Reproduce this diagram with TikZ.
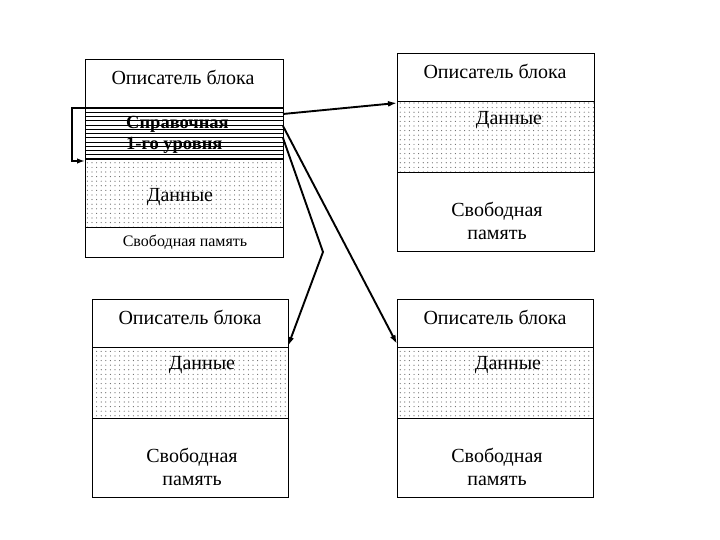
\documentclass[tikz,border=0pt]{standalone}
\usepackage{fontspec}
\setmainfont{Liberation Serif}
\usetikzlibrary{arrows.meta,patterns.meta,calc}
\begin{document}
\begin{tikzpicture}[x=1pt,y=1pt,
  sect/.style={draw=black,line width=1pt,inner sep=0pt,outer sep=0pt,anchor=north west},
  dotted fill/.style={pattern={Dots[distance=4.6pt,radius=0.6pt]},pattern color=black!60},
  lbl/.style={font=\fontsize{20}{22}\selectfont,inner sep=0pt,align=center},
  conn/.style={line width=1.9pt,-{Latex[length=9pt,width=6pt]}}]
\useasboundingbox (0,0) rectangle (720,540);
% ---- block 1 (top left)
\node[sect,minimum width=198pt,minimum height=48pt] (o1) at (85,480) {};
\node[sect,minimum width=198pt,minimum height=51pt] (h1) at (85,432) {};
\node[sect,dotted fill,minimum width=198pt,minimum height=69pt] (d1) at (85,381) {};
\node[sect,minimum width=198pt,minimum height=30pt] (s1) at (85,312) {};
\node[lbl] at (183,463) {Описатель блока};
\node[lbl] at (180,343) {Данные};
\node[lbl,font=\fontsize{16}{18}\selectfont] at (185,298) {Свободная память};
\node[lbl,anchor=west,font=\fontsize{18.5}{20}\selectfont\bfseries] (t1) at (126,416) {Справочная};
\node[lbl,anchor=west,font=\fontsize{18.5}{20}\selectfont\bfseries] (t2) at (126,395) {1-го уровня};
\foreach \i in {0,...,12}{
  \draw[line width=0.9pt] ($(h1.north west)+(0,-4.25*\i)$) -- ($(h1.north east)+(0,-4.25*\i)$);
}
% ---- block 2 (top right)
\node[sect,minimum width=197pt,minimum height=48pt] (o2) at (397,486) {};
\node[sect,dotted fill,minimum width=197pt,minimum height=71pt] (d2) at (397,438) {};
\node[sect,minimum width=197pt,minimum height=79pt] (s2) at (397,367) {};
\node[lbl] at (495,469) {Описатель блока};
\node[lbl] at (509,420) {Данные};
\node[lbl] at (497,319) {Свободная\\[1pt]память};
% ---- block 3 (bottom left)
\node[sect,minimum width=196pt,minimum height=48pt] (o3) at (92,240) {};
\node[sect,dotted fill,minimum width=196pt,minimum height=71pt] (d3) at (92,192) {};
\node[sect,minimum width=196pt,minimum height=79pt] (s3) at (92,121) {};
\node[lbl] at (190,223) {Описатель блока};
\node[lbl] at (202,175) {Данные};
\node[lbl] at (192,73) {Свободная\\[1pt]память};
% ---- block 4 (bottom right)
\node[sect,minimum width=196pt,minimum height=48pt] (o4) at (397,240) {};
\node[sect,dotted fill,minimum width=196pt,minimum height=71pt] (d4) at (397,192) {};
\node[sect,minimum width=196pt,minimum height=79pt] (s4) at (397,121) {};
\node[lbl] at (495,223) {Описатель блока};
\node[lbl] at (508,175) {Данные};
\node[lbl] at (497,73) {Свободная\\[1pt]память};
% ---- connectors
\coordinate (kink) at (323,288);
\draw[line width=1.6pt,-{Latex[length=8pt,width=5.5pt]}] (h1.north west) -- ++(-13,0) |- ($(d1.north west)+(0,-2)$);
\draw[conn] ($(h1.north east)+(0,-6)$) -- ($(d2.north west)+(0,-1)$);
\draw[conn] ($(h1.north east)+(0,-18)$) -- ($(d4.north west)+(0,4)$);
\draw[conn] ($(h1.north east)+(0,-30)$) -- (kink) -- ($(d3.north east)+(0,2)$);
\end{tikzpicture}
\end{document}
